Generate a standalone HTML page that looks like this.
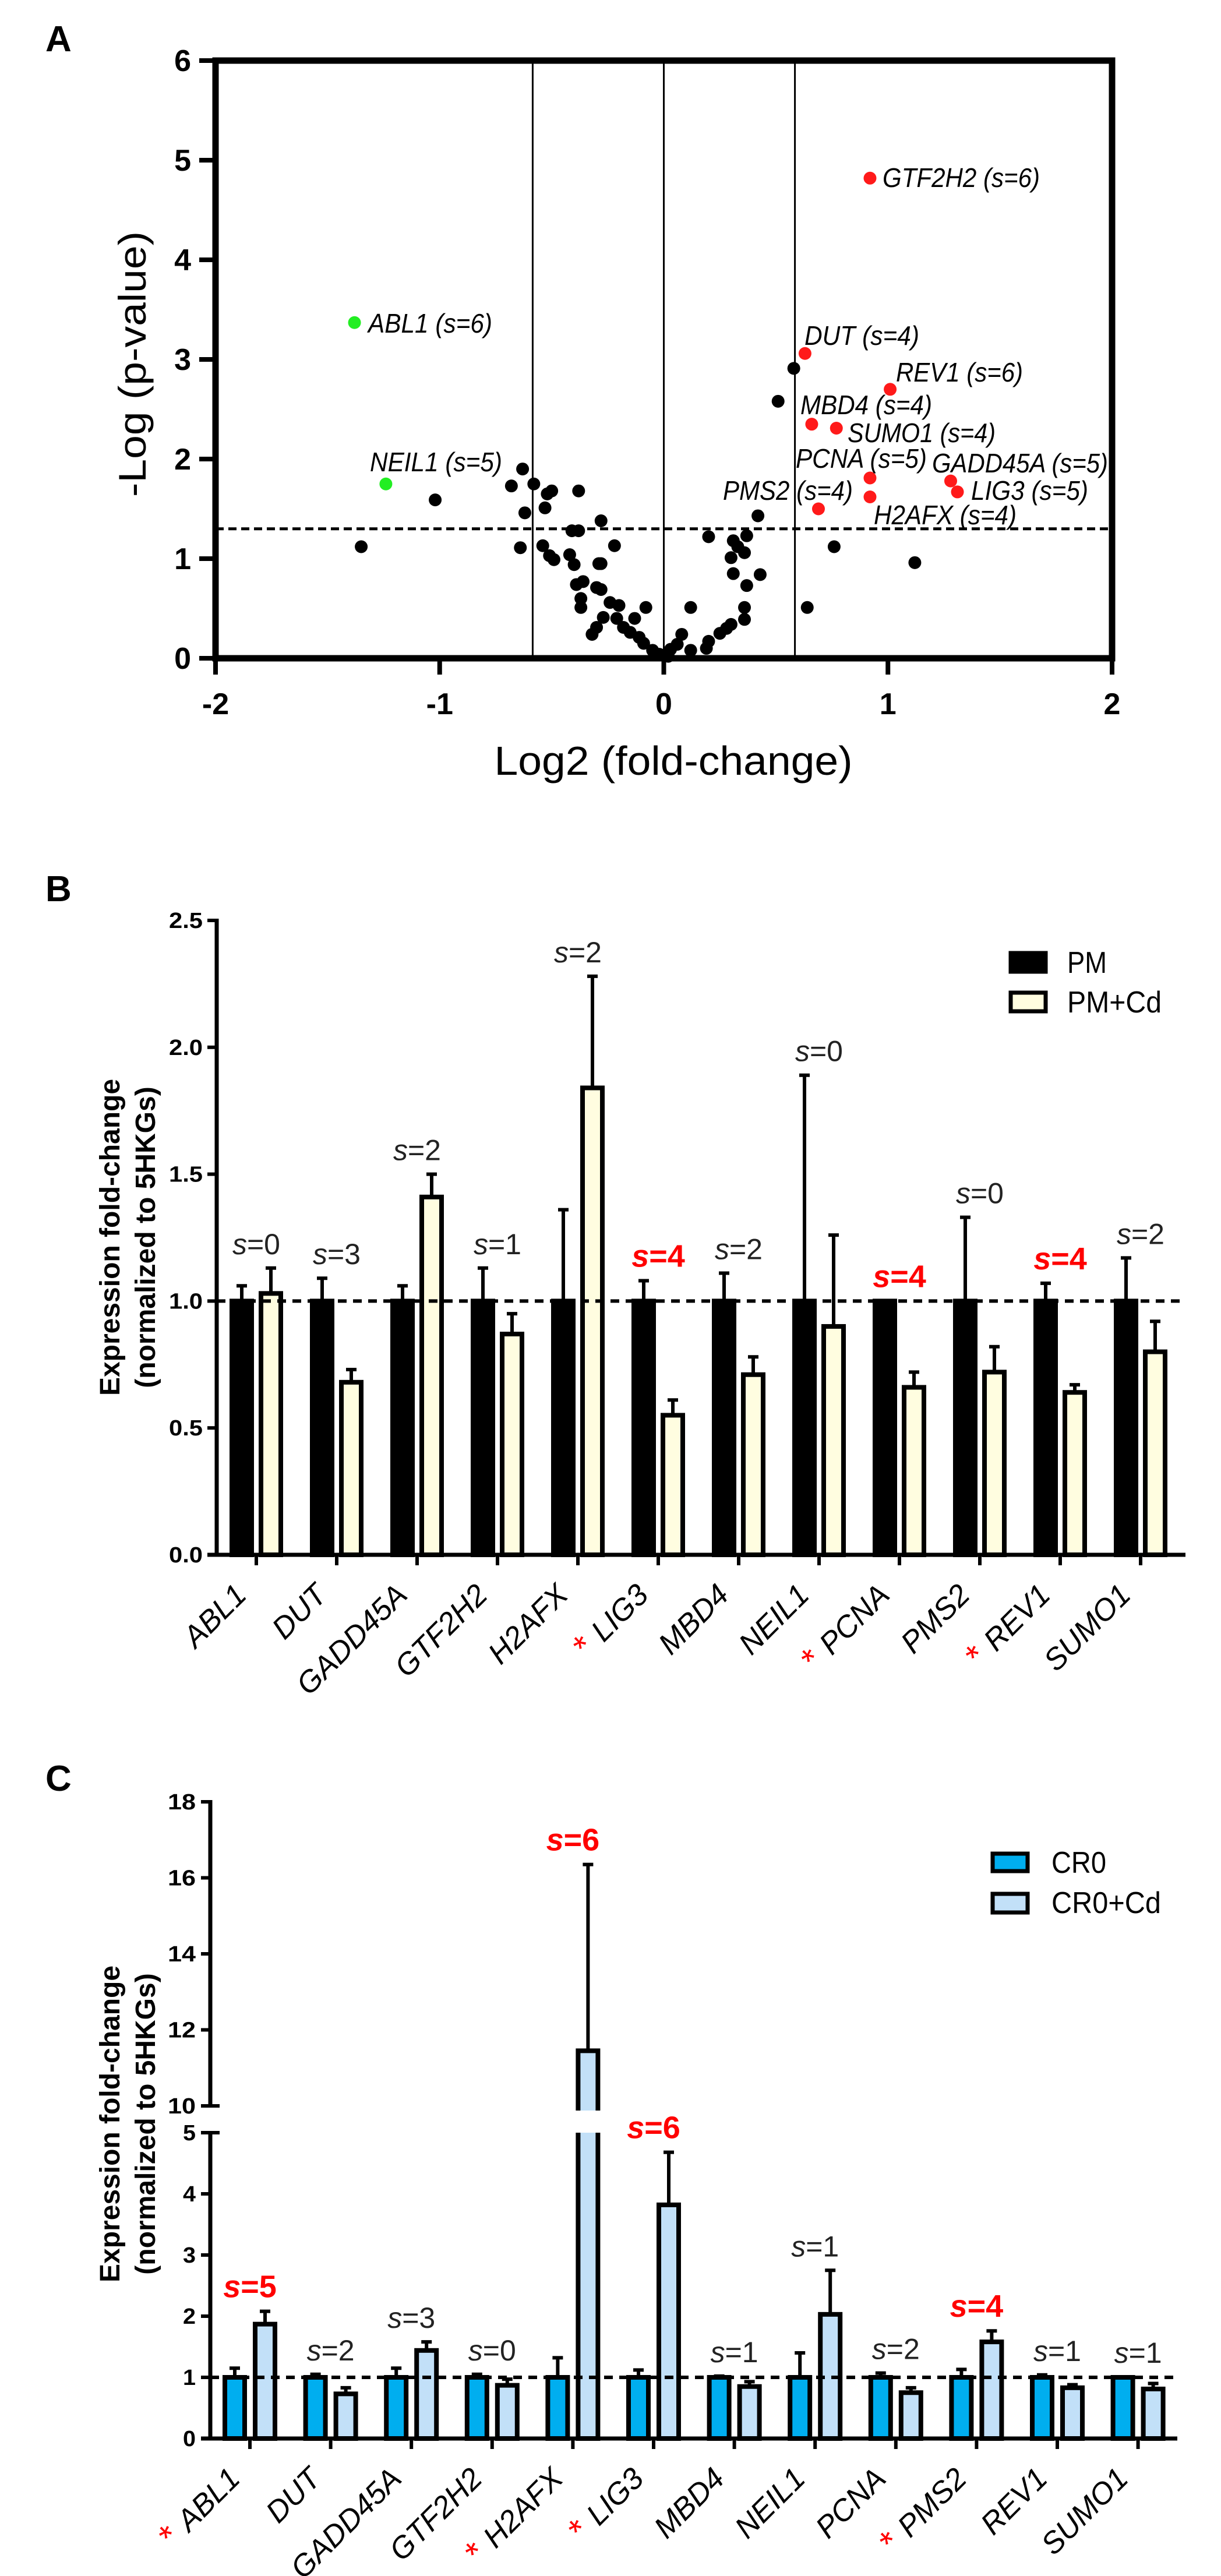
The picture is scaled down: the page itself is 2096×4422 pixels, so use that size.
<!DOCTYPE html>
<html><head><meta charset="utf-8"><title>Figure</title>
<style>
html,body{margin:0;padding:0;background:#fff;}
svg{display:block;font-family:"Liberation Sans Narrow","Liberation Sans",sans-serif;}
</style></head>
<body>
<svg id="fig" xmlns="http://www.w3.org/2000/svg" width="2096" height="4422" viewBox="0 0 2096 4422">
<rect x="0" y="0" width="2096" height="4422" fill="#fff"/>
<g id="panelA"></g>
<g id="panelB"></g>
<g id="panelC"></g>
</svg>
<script>
// ---------- Panel A data ----------
const volcanoX = [-1.35,-1.02,-0.63,-0.68,-0.58,-0.50,-0.52,-0.38,-0.62,-0.53,-0.28,-0.41,-0.38,-0.64,-0.54,-0.22,-0.51,-0.49,-0.42,-0.40,-0.29,-0.28,-0.39,-0.36,-0.30,-0.28,-0.37,-0.37,-0.24,-0.20,-0.08,-0.27,-0.30,-0.32,-0.21,-0.18,-0.13,-0.15,-0.11,-0.09,-0.05,-0.02,0.02,0.03,0.06,0.08,0.12,0.12,0.19,0.20,0.25,0.28,0.30,0.36,0.36,0.37,0.31,0.43,0.30,0.36,0.33,0.31,0.37,0.20,0.42,0.76,0.64,1.12,0.58,0.51];
const volcanoY = [1.12,1.59,1.90,1.73,1.75,1.68,1.65,1.68,1.46,1.51,1.38,1.28,1.28,1.11,1.13,1.13,1.03,0.99,1.04,0.94,0.95,0.95,0.74,0.77,0.71,0.69,0.60,0.51,0.56,0.53,0.51,0.41,0.31,0.24,0.40,0.31,0.40,0.26,0.21,0.15,0.08,0.04,0.02,0.09,0.14,0.24,0.08,0.51,0.10,0.17,0.25,0.30,0.34,0.39,0.51,0.73,0.85,0.84,1.01,1.06,1.12,1.18,1.23,1.22,1.43,1.12,0.51,0.96,2.91,2.58];
const hitGenes = ["GTF2H2","ABL1","NEIL1","DUT","REV1","MBD4","SUMO1","PCNA","GADD45A","LIG3","H2AFX","PMS2"];
const hitS = [6,6,5,4,6,4,4,5,5,5,4,4];
const hitX = [0.92,-1.38,-1.24,0.63,1.01,0.66,0.77,0.92,1.28,1.31,0.92,0.69];
const hitY = [4.82,3.37,1.75,3.06,2.70,2.35,2.31,1.81,1.78,1.67,1.62,1.50];
const hitDown = [false,true,true,false,false,false,false,false,false,false,false,false];
const volcanoXTicks = [-2,-1,0,1,2];
const volcanoYTicks = [0,1,2,3,4,5,6];

// ---------- Panel B data ----------
const genesB = ["ABL1","DUT","GADD45A","GTF2H2","H2AFX","LIG3","MBD4","NEIL1","PCNA","PMS2","REV1","SUMO1"];
const starB = [false,false,false,false,false,true,false,false,true,false,true,false];
const pmVals = [1,1,1,1,1,1,1,1,1,1,1,1];
const pmErr = [1.06,1.09,1.06,1.13,1.36,1.08,1.11,1.89,1.0,1.33,1.07,1.17];
const pmCdVals = [1.03,0.68,1.41,0.87,1.84,0.55,0.71,0.90,0.66,0.72,0.64,0.80];
const pmCdErr = [1.13,0.73,1.50,0.95,2.28,0.61,0.78,1.26,0.72,0.82,0.67,0.92];
const sB = [0,3,2,1,2,4,2,0,4,0,4,2];
const sigB = [false,false,false,false,false,true,false,false,true,false,true,false];
const yTicksB = ["0.0","0.5","1.0","1.5","2.0","2.5"];

// ---------- Panel C data ----------
const genesC = ["ABL1","DUT","GADD45A","GTF2H2","H2AFX","LIG3","MBD4","NEIL1","PCNA","PMS2","REV1","SUMO1"];
const starC = [true,false,false,false,true,true,false,false,false,true,false,false];
const cr0Vals = [1,1,1,1,1,1,1,1,1,1,1,1];
const cr0Err = [1.15,1.05,1.15,1.05,1.32,1.12,1.02,1.40,1.07,1.13,1.04,1.01];
const cr0CdVals = [1.87,0.73,1.44,0.87,11.45,3.82,0.85,2.03,0.75,1.58,0.83,0.81];
const cr0CdErr = [2.08,0.83,1.58,0.97,16.35,4.68,0.93,2.75,0.83,1.76,0.88,0.90];
const sC = [5,2,3,0,6,6,1,1,2,4,1,1];
const sigC = [true,false,false,false,true,true,false,false,false,true,false,false];
const yTicksCLow = [0,1,2,3,4,5];
const yTicksCHigh = [10,12,14,16,18];

const NS = "http://www.w3.org/2000/svg";
function mk(parent, tag, attrs, text){
  const e = document.createElementNS(NS, tag);
  for (const k in attrs) e.setAttribute(k, attrs[k]);
  if (text !== undefined) e.textContent = text;
  parent.appendChild(e);
  return e;
}

// ================= Panel A =================
(function(){
  const g = document.getElementById('panelA');
  const X0 = 370, X1 = 1909, Y0 = 1130, Y6 = 104;
  const xA = v => X0 + (v + 2) / 4 * (X1 - X0);
  const yA = v => Y0 - v / 6 * (Y0 - Y6);
  let t = mk(g,'text',{x:78,y:88,'font-size':62,'font-weight':'bold','font-family':'Liberation Sans, sans-serif'},'A');
   
  [-0.585,0,0.585].forEach(v=>{
    const l = mk(g,'line',{x1:xA(v),x2:xA(v),y1:Y6,y2:Y0,stroke:'#000','stroke-width':3});
     
  });
  const d = mk(g,'line',{x1:X0,x2:X1,y1:yA(1.3),y2:yA(1.3),stroke:'#000','stroke-width':5,'stroke-dasharray':'14 8'});
   
  const fr = mk(g,'rect',{x:X0,y:Y6,width:X1-X0,height:Y0-Y6,fill:'none',stroke:'#000','stroke-width':11});
   
  volcanoYTicks.forEach(v=>{
    const l = mk(g,'line',{x1:X0-28,x2:X0,y1:yA(v),y2:yA(v),stroke:'#000','stroke-width':8});
     
    const tx = mk(g,'text',{x:328,y:yA(v)+18,'font-size':52,'font-weight':'bold','text-anchor':'end'},String(v));
     
  });
  volcanoXTicks.forEach(v=>{
    const l = mk(g,'line',{x1:xA(v),x2:xA(v),y1:Y0,y2:Y0+28,stroke:'#000','stroke-width':8});
     
    const tx = mk(g,'text',{x:xA(v),y:1226,'font-size':52,'font-weight':'bold','text-anchor':'middle'},String(v));
     
  });
  t = mk(g,'text',{x:1156,y:1330,'font-size':70,'text-anchor':'middle',textLength:615,lengthAdjust:'spacingAndGlyphs'},'Log2 (fold-change)');
   
  t = mk(g,'text',{x:0,y:0,'font-size':66,'text-anchor':'middle',textLength:456,lengthAdjust:'spacingAndGlyphs','font-family':'Liberation Sans, sans-serif',transform:'translate(250,625) rotate(-90)'},'-Log (p-value)');
   
  for (let i=0;i<volcanoX.length;i++){
    const c = mk(g,'circle',{cx:xA(volcanoX[i]),cy:yA(volcanoY[i]),r:11,fill:'#000'});
     
  }
  const labelPos = {GTF2H2:[1515,305,270],ABL1:[632,555,213],NEIL1:[635,793,227],DUT:[1381,576,197],REV1:[1538,639,218],MBD4:[1374,695,226],SUMO1:[1455,743,254],PCNA:[1366,787,225],GADD45A:[1600,795,302],LIG3:[1667,842,201],PMS2:[1241,842,223],H2AFX:[1500,884,245]};
  for (let i=0;i<hitGenes.length;i++){
    const c = mk(g,'circle',{cx:xA(hitX[i]),cy:yA(hitY[i]),r:11,fill:hitDown[i]?'#22ee22':'#ff1a1a'});
     
    const p = labelPos[hitGenes[i]];
    const tx = mk(g,'text',{x:p[0],y:p[1]+16,'font-size':46,'font-style':'italic',textLength:p[2],lengthAdjust:'spacingAndGlyphs'},hitGenes[i]+' (s='+hitS[i]+')');
     
  }
})();

// ============= bar chart helper =============
function barPanel(opts){
  const g = opts.g;
  const y = opts.y;
  const tick = i => opts.tick0 + i*opts.spacing;
  for (let i=0;i<opts.genes.length;i++){
    const pairs = [[opts.v1,opts.e1,opts.c1,-opts.off,'control-bar'],[opts.v2,opts.e2,opts.c2,opts.off,'cd-treated-bar']];
    pairs.forEach(p=>{
      const cx = tick(i)+p[3];
      const v = p[0][i], e = p[1][i];
      if (e > v){
        const el = mk(g,'line',{x1:cx,x2:cx,y1:y(e),y2:y(v),stroke:'#000','stroke-width':6});
         
        const cap = mk(g,'line',{x1:cx-9,x2:cx+9,y1:y(e),y2:y(e),stroke:'#000','stroke-width':6});
         
      }
      const top = y(v);
      const r = mk(g,'rect',{x:cx-17,y:top,width:34,height:opts.base-top,fill:p[2],stroke:'#000','stroke-width':8});
       
    });
  }
  const dl = mk(g,'line',{x1:opts.axX,x2:opts.axEnd,y1:y(1),y2:y(1),stroke:'#000','stroke-width':6,'stroke-dasharray':'15 11'});
   
  if (opts.extra) opts.extra();
  const xa = mk(g,'line',{x1:opts.axX-16,x2:opts.axEnd,y1:opts.base,y2:opts.base,stroke:'#000','stroke-width':7});
   
  for (let i=0;i<opts.genes.length;i++){
    const tx = tick(i);
    const tk = mk(g,'line',{x1:tx,x2:tx,y1:opts.base,y2:opts.base+18,stroke:'#000','stroke-width':6});
     
    const lab = mk(g,'text',{x:0,y:0,'font-size':52,'font-style':'italic','text-anchor':'end','font-family':'Liberation Sans, sans-serif',transform:'translate('+(tx-14)+','+(opts.base+72)+') rotate(-45)'});
     
    if (opts.star[i]){ mk(lab,'tspan',{fill:'#ff0000','font-style':'normal','font-size':60},'* '); }
    mk(lab,'tspan',{},opts.genes[i]);
    const topv = Math.max(opts.e1[i],opts.e2[i],opts.v2[i]);
    const sl = mk(g,'text',{x:tx,y:y(topv)-opts.sOff,'text-anchor':'middle','font-size':opts.sig[i]?54:50,'font-weight':opts.sig[i]?'bold':'normal',fill:opts.sig[i]?'#ff0000':'#222'});
     
    mk(sl,'tspan',{'font-style':'italic'},'s');
    mk(sl,'tspan',{},'='+opts.s[i]);
  }
}

// ================= Panel B =================
(function(){
  const g = document.getElementById('panelB');
  const base = 2669, per = 435.6;
  const yB = v => base - v*per;
  let t = mk(g,'text',{x:78,y:1547,'font-size':62,'font-weight':'bold','font-family':'Liberation Sans, sans-serif'},'B');
   
  const ya = mk(g,'line',{x1:372,x2:372,y1:1577,y2:base+3,stroke:'#000','stroke-width':7});
   
  yTicksB.forEach(s=>{
    const v = parseFloat(s);
    const l = mk(g,'line',{x1:356,x2:372,y1:yB(v),y2:yB(v),stroke:'#000','stroke-width':6});
     
    const tx = mk(g,'text',{x:348,y:yB(v)+13,'font-size':38,'font-weight':'bold','text-anchor':'end','font-family':'Liberation Sans, sans-serif',textLength:58,lengthAdjust:'spacingAndGlyphs'},s);
     
  });
  t = mk(g,'text',{x:0,y:0,'font-size':48,'font-weight':'bold','text-anchor':'middle','font-family':'Liberation Sans, sans-serif',transform:'translate(205,2124) rotate(-90)'},'Expression fold-change');
   
  t = mk(g,'text',{x:0,y:0,'font-size':48,'font-weight':'bold','text-anchor':'middle','font-family':'Liberation Sans, sans-serif',transform:'translate(266,2124) rotate(-90)'},'(normalized to 5HKGs)');
   
  barPanel({g:g,y:yB,base:base,tick0:440,spacing:138,off:25,axX:372,axEnd:2035,genes:genesB,star:starB,v1:pmVals,e1:pmErr,v2:pmCdVals,e2:pmCdErr,c1:'#000',c2:'#fffde0',s:sB,sig:sigB,sOff:24});
  let r = mk(g,'rect',{x:1735,y:1636,width:60,height:32,fill:'#000',stroke:'#000','stroke-width':7});
   
  t = mk(g,'text',{x:1832,y:1670,'font-size':52,textLength:68,lengthAdjust:'spacingAndGlyphs'},'PM');
   
  r = mk(g,'rect',{x:1735,y:1704,width:60,height:32,fill:'#fffde0',stroke:'#000','stroke-width':7});
   
  t = mk(g,'text',{x:1832,y:1738,'font-size':52,textLength:162,lengthAdjust:'spacingAndGlyphs'},'PM+Cd');
   
})();

// ================= Panel C =================
(function(){
  const g = document.getElementById('panelC');
  const base = 4186;
  const yC = v => v <= 7.5 ? base - v*105 : 3615 - (v-10)*65.25;
  let t = mk(g,'text',{x:78,y:3074,'font-size':62,'font-weight':'bold','font-family':'Liberation Sans, sans-serif'},'C');
   
  let ya = mk(g,'line',{x1:361,x2:361,y1:3090,y2:3615,stroke:'#000','stroke-width':7});
   
  ya = mk(g,'line',{x1:361,x2:361,y1:3661,y2:base+3,stroke:'#000','stroke-width':7});
   
  yTicksCHigh.concat(yTicksCLow).forEach(v=>{
    const brk = (v===10 || v===5);
    const l = mk(g,'line',{x1:345,x2:brk?377:361,y1:yC(v),y2:yC(v),stroke:'#000','stroke-width':6});
     
    const tx = mk(g,'text',{x:336,y:yC(v)+13,'font-size':38,'font-weight':'bold','text-anchor':'end','font-family':'Liberation Sans, sans-serif',textLength:v>=10?48:22,lengthAdjust:'spacingAndGlyphs'},String(v));
     
  });
  t = mk(g,'text',{x:0,y:0,'font-size':48,'font-weight':'bold','text-anchor':'middle','font-family':'Liberation Sans, sans-serif',transform:'translate(205,3646) rotate(-90)'},'Expression fold-change');
   
  t = mk(g,'text',{x:0,y:0,'font-size':48,'font-weight':'bold','text-anchor':'middle','font-family':'Liberation Sans, sans-serif',transform:'translate(266,3646) rotate(-90)'},'(normalized to 5HKGs)');
   
  const tick0 = 429, spacing = 138.6;
  barPanel({g:g,y:yC,base:base,tick0:tick0,spacing:spacing,off:26,axX:361,axEnd:2021,genes:genesC,star:starC,v1:cr0Vals,e1:cr0Err,v2:cr0CdVals,e2:cr0CdErr,c1:'#00aeef',c2:'#c2e0f8',s:sC,sig:sigC,sOff:24,
    extra:function(){
      for (let i=0;i<cr0CdVals.length;i++){
        if (cr0CdVals[i] > 10){
          const cx = tick0 + i*spacing + 26;
          const gp = mk(g,'rect',{x:cx-24,y:3623,width:48,height:38,fill:'#fff'});
           
        }
      }
    }});
  let r = mk(g,'rect',{x:1704,y:3182,width:60,height:30,fill:'#00aeef',stroke:'#000','stroke-width':7});
   
  t = mk(g,'text',{x:1805,y:3215,'font-size':52,textLength:94,lengthAdjust:'spacingAndGlyphs'},'CR0');
   
  r = mk(g,'rect',{x:1704,y:3251,width:60,height:32,fill:'#c2e0f8',stroke:'#000','stroke-width':7});
   
  t = mk(g,'text',{x:1805,y:3284,'font-size':52,textLength:188,lengthAdjust:'spacingAndGlyphs'},'CR0+Cd');
   
})();
</script>
</body></html>
